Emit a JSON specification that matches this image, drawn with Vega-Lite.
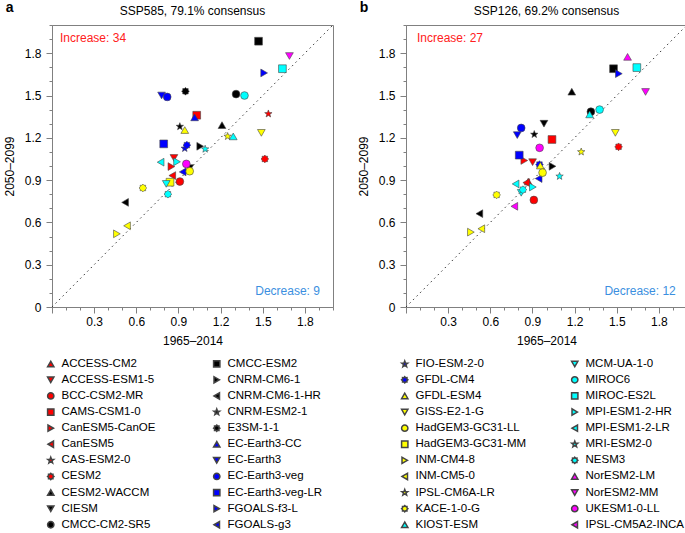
{
  "$schema": "https://vega.github.io/schema/vega-lite/v6.json",
  "padding": {"left": 2, "top": 0, "right": 2, "bottom": 0},
  "datasets": {
    "one": [{}],
    "ssp585": [
      {"model": "ACCESS-ESM1-5", "hist": 0.868, "fut": 1.057},
      {"model": "BCC-CSM2-MR", "hist": 0.91, "fut": 0.89},
      {"model": "CAMS-CSM1-0", "hist": 1.03, "fut": 1.36},
      {"model": "CanESM5-CanOE", "hist": 0.85, "fut": 0.996},
      {"model": "CanESM5", "hist": 0.856, "fut": 0.932},
      {"model": "CAS-ESM2-0", "hist": 1.54, "fut": 1.37},
      {"model": "CESM2", "hist": 1.515, "fut": 1.05},
      {"model": "CESM2-WACCM", "hist": 1.21, "fut": 1.29},
      {"model": "CIESM", "hist": 0.98, "fut": 0.985},
      {"model": "CMCC-CM2-SR5", "hist": 1.31, "fut": 1.51},
      {"model": "CMCC-ESM2", "hist": 1.47, "fut": 1.885},
      {"model": "CNRM-CM6-1", "hist": 1.055, "fut": 1.14},
      {"model": "CNRM-CM6-1-HR", "hist": 0.52, "fut": 0.742},
      {"model": "CNRM-ESM2-1", "hist": 0.91, "fut": 1.28},
      {"model": "E3SM-1-1", "hist": 0.95, "fut": 1.53},
      {"model": "EC-Earth3-CC", "hist": 1.015, "fut": 1.345},
      {"model": "EC-Earth3", "hist": 0.78, "fut": 1.5},
      {"model": "EC-Earth3-veg", "hist": 0.82, "fut": 1.49},
      {"model": "EC-Earth3-veg-LR", "hist": 0.795, "fut": 1.157},
      {"model": "FGOALS-f3-L", "hist": 1.51, "fut": 1.66},
      {"model": "FGOALS-g3", "hist": 0.93, "fut": 0.958},
      {"model": "FIO-ESM-2-0", "hist": 0.945, "fut": 1.125},
      {"model": "GFDL-CM4", "hist": 0.96, "fut": 1.148},
      {"model": "GFDL-ESM4", "hist": 0.945, "fut": 1.255},
      {"model": "GISS-E2-1-G", "hist": 1.49, "fut": 1.235},
      {"model": "HadGEM3-GC31-LL", "hist": 0.98, "fut": 0.963},
      {"model": "HadGEM3-GC31-MM", "hist": 0.84, "fut": 0.885},
      {"model": "INM-CM4-8", "hist": 0.462, "fut": 0.519},
      {"model": "INM-CM5-0", "hist": 0.534, "fut": 0.576},
      {"model": "IPSL-CM6A-LR", "hist": 1.25, "fut": 1.21},
      {"model": "KACE-1-0-G", "hist": 0.647, "fut": 0.844},
      {"model": "KIOST-ESM", "hist": 1.29, "fut": 1.21},
      {"model": "MCM-UA-1-0", "hist": 0.813, "fut": 0.873},
      {"model": "MIROC6", "hist": 1.37, "fut": 1.5},
      {"model": "MIROC-ES2L", "hist": 1.64, "fut": 1.69},
      {"model": "MPI-ESM1-2-HR", "hist": 0.89, "fut": 1.03},
      {"model": "MPI-ESM1-2-LR", "hist": 0.773, "fut": 1.027},
      {"model": "MRI-ESM2-0", "hist": 1.09, "fut": 1.12},
      {"model": "NESM3", "hist": 0.825, "fut": 0.8},
      {"model": "NorESM2-MM", "hist": 1.69, "fut": 1.78},
      {"model": "UKESM1-0-LL", "hist": 0.956, "fut": 1.015}
    ],
    "ssp126": [
      {"model": "ACCESS-CM2", "hist": 0.87, "fut": 0.89},
      {"model": "ACCESS-ESM1-5", "hist": 0.901, "fut": 1.027},
      {"model": "BCC-CSM2-MR", "hist": 0.91, "fut": 0.759},
      {"model": "CAMS-CSM1-0", "hist": 1.039, "fut": 1.188},
      {"model": "CanESM5-CanOE", "hist": 0.842, "fut": 1.039},
      {"model": "CanESM5", "hist": 0.856, "fut": 0.882},
      {"model": "CESM2", "hist": 1.513, "fut": 1.136},
      {"model": "CESM2-WACCM", "hist": 1.18, "fut": 1.527},
      {"model": "CIESM", "hist": 0.982, "fut": 1.3},
      {"model": "CMCC-CM2-SR5", "hist": 1.316, "fut": 1.385},
      {"model": "CMCC-ESM2", "hist": 1.477, "fut": 1.69},
      {"model": "CNRM-CM6-1", "hist": 1.043, "fut": 0.998},
      {"model": "CNRM-CM6-1-HR", "hist": 0.522, "fut": 0.662},
      {"model": "CNRM-ESM2-1", "hist": 0.913, "fut": 1.224},
      {"model": "EC-Earth3", "hist": 0.792, "fut": 1.219},
      {"model": "EC-Earth3-veg", "hist": 0.82, "fut": 1.27},
      {"model": "EC-Earth3-veg-LR", "hist": 0.806, "fut": 1.077},
      {"model": "FGOALS-f3-L", "hist": 1.515, "fut": 1.655},
      {"model": "FGOALS-g3", "hist": 0.944, "fut": 0.911},
      {"model": "GFDL-CM4", "hist": 0.95, "fut": 1.01},
      {"model": "GFDL-ESM4", "hist": 0.956, "fut": 1.003},
      {"model": "GISS-E2-1-G", "hist": 1.49, "fut": 1.235},
      {"model": "HadGEM3-GC31-LL", "hist": 0.972, "fut": 0.953},
      {"model": "INM-CM4-8", "hist": 0.462, "fut": 0.531},
      {"model": "INM-CM5-0", "hist": 0.536, "fut": 0.555},
      {"model": "IPSL-CM6A-LR", "hist": 1.247, "fut": 1.1},
      {"model": "KACE-1-0-G", "hist": 0.645, "fut": 0.795},
      {"model": "KIOST-ESM", "hist": 1.307, "fut": 1.366},
      {"model": "MCM-UA-1-0", "hist": 0.82, "fut": 0.81},
      {"model": "MIROC6", "hist": 1.378, "fut": 1.4},
      {"model": "MIROC-ES2L", "hist": 1.643, "fut": 1.698},
      {"model": "MPI-ESM1-2-HR", "hist": 0.903, "fut": 0.851},
      {"model": "MPI-ESM1-2-LR", "hist": 0.78, "fut": 0.873},
      {"model": "MRI-ESM2-0", "hist": 1.093, "fut": 0.927},
      {"model": "NESM3", "hist": 0.832, "fut": 0.832},
      {"model": "NorESM2-LM", "hist": 1.577, "fut": 1.774},
      {"model": "NorESM2-MM", "hist": 1.705, "fut": 1.525},
      {"model": "UKESM1-0-LL", "hist": 0.951, "fut": 1.129},
      {"model": "IPSL-CM5A2-INCA", "hist": 0.771, "fut": 0.714}
    ]
  },
  "hconcat": [
    {
      "width": 281,
      "height": 282,
      "title": {"text": "SSP585, 79.1% consensus", "fontSize": 12, "fontWeight": "normal", "offset": -17},
      "layer": [
        {
          "data": {"name": "one"},
          "mark": {"type": "rule", "strokeDash": [1.5, 3.5], "color": "#333", "strokeWidth": 1},
          "encoding": {
            "x": {"datum": 0, "type": "quantitative", "scale": {"domain": [0, 2], "nice": false},
              "axis": {"title": "1965–2014", "values": [0,0.1,0.2,0.3,0.4,0.5,0.6,0.7,0.8,0.9,1.0,1.1,1.2,1.3,1.4,1.5,1.6,1.7,1.8,1.9,2.0], "labelExpr": "(round(datum.value*10) % 3 == 0 && round(datum.value*10) > 0 && round(datum.value*10) < 20) ? format(datum.value, '.1f') : ''", "tickSize": {"condition": {"test": "round(datum.value*10) % 3 == 0", "value": 6}, "value": 3}, "labelFlush": false, "labelOverlap": false, "labelPadding": 3, "titlePadding": 8}},
            "y": {"datum": 0, "type": "quantitative", "scale": {"domain": [0, 2], "nice": false},
              "axis": {"title": "2050–2099", "values": [0,0.1,0.2,0.3,0.4,0.5,0.6,0.7,0.8,0.9,1.0,1.1,1.2,1.3,1.4,1.5,1.6,1.7,1.8,1.9,2.0], "labelExpr": "round(datum.value*10) == 0 ? '0' : ((round(datum.value*10) % 3 == 0 && round(datum.value*10) < 20) ? format(datum.value, '.1f') : '')", "tickSize": {"condition": {"test": "round(datum.value*10) % 3 == 0", "value": 6}, "value": 3}, "labelFlush": false, "labelOverlap": false, "labelPadding": 5, "titlePadding": 8}},
            "x2": {"datum": 2},
            "y2": {"datum": 2}
          }
        },
        {
          "data": {"name": "ssp585"},
          "mark": {"type": "point", "filled": true, "size": 60, "opacity": 1, "stroke": "#444", "strokeWidth": 0.6},
          "encoding": {
            "x": {"field": "hist", "type": "quantitative", "scale": {"domain": [0, 2], "nice": false},
              "axis": {"title": "1965–2014", "values": [0,0.1,0.2,0.3,0.4,0.5,0.6,0.7,0.8,0.9,1.0,1.1,1.2,1.3,1.4,1.5,1.6,1.7,1.8,1.9,2.0], "labelExpr": "(round(datum.value*10) % 3 == 0 && round(datum.value*10) > 0 && round(datum.value*10) < 20) ? format(datum.value, '.1f') : ''", "tickSize": {"condition": {"test": "round(datum.value*10) % 3 == 0", "value": 6}, "value": 3}, "labelFlush": false, "labelOverlap": false, "labelPadding": 3, "titlePadding": 8}},
            "y": {"field": "fut", "type": "quantitative", "scale": {"domain": [0, 2], "nice": false},
              "axis": {"title": "2050–2099", "values": [0,0.1,0.2,0.3,0.4,0.5,0.6,0.7,0.8,0.9,1.0,1.1,1.2,1.3,1.4,1.5,1.6,1.7,1.8,1.9,2.0], "labelExpr": "round(datum.value*10) == 0 ? '0' : ((round(datum.value*10) % 3 == 0 && round(datum.value*10) < 20) ? format(datum.value, '.1f') : '')", "tickSize": {"condition": {"test": "round(datum.value*10) % 3 == 0", "value": 6}, "value": 3}, "labelFlush": false, "labelOverlap": false, "labelPadding": 5, "titlePadding": 8}},
            "color": {"field": "model", "type": "nominal",
              "scale": {
                "domain": ["ACCESS-CM2","ACCESS-ESM1-5","BCC-CSM2-MR","CAMS-CSM1-0","CanESM5-CanOE","CanESM5","CAS-ESM2-0","CESM2","CESM2-WACCM","CIESM","CMCC-CM2-SR5","CMCC-ESM2","CNRM-CM6-1","CNRM-CM6-1-HR","CNRM-ESM2-1","E3SM-1-1","EC-Earth3-CC","EC-Earth3","EC-Earth3-veg","EC-Earth3-veg-LR","FGOALS-f3-L","FGOALS-g3","FIO-ESM-2-0","GFDL-CM4","GFDL-ESM4","GISS-E2-1-G","HadGEM3-GC31-LL","HadGEM3-GC31-MM","INM-CM4-8","INM-CM5-0","IPSL-CM6A-LR","KACE-1-0-G","KIOST-ESM","MCM-UA-1-0","MIROC6","MIROC-ES2L","MPI-ESM1-2-HR","MPI-ESM1-2-LR","MRI-ESM2-0","NESM3","NorESM2-LM","NorESM2-MM","UKESM1-0-LL","IPSL-CM5A2-INCA"],
                "range": ["#ff0000","#ff0000","#ff0000","#ff0000","#ff0000","#ff0000","#ff0000","#ff0000","#000000","#000000","#000000","#000000","#000000","#000000","#000000","#000000","#0000ff","#0000ff","#0000ff","#0000ff","#0000ff","#0000ff","#0000ff","#0000ff","#ffff00","#ffff00","#ffff00","#ffff00","#ffff00","#ffff00","#ffff00","#ffff00","#00ffff","#00ffff","#00ffff","#00ffff","#00ffff","#00ffff","#00ffff","#00ffff","#ff00ff","#ff00ff","#ff00ff","#ff00ff"]
              },
              "legend": {"values": ["ACCESS-CM2","CMCC-ESM2","ACCESS-ESM1-5","CNRM-CM6-1","BCC-CSM2-MR","CNRM-CM6-1-HR","CAMS-CSM1-0","CNRM-ESM2-1","CanESM5-CanOE","E3SM-1-1","CanESM5","EC-Earth3-CC","CAS-ESM2-0","EC-Earth3","CESM2","EC-Earth3-veg","CESM2-WACCM","EC-Earth3-veg-LR","CIESM","FGOALS-f3-L","CMCC-CM2-SR5","FGOALS-g3"],
                "orient": "bottom", "columns": 2, "title": null, "labelFontSize": 11.5, "symbolSize": 40, "rowPadding": 3.1, "columnPadding": 54, "labelOffset": 5, "offset": 12, "padding": 0, "symbolOffset": -7}
            },
            "shape": {"field": "model", "type": "nominal",
              "scale": {
                "domain": ["ACCESS-CM2","ACCESS-ESM1-5","BCC-CSM2-MR","CAMS-CSM1-0","CanESM5-CanOE","CanESM5","CAS-ESM2-0","CESM2","CESM2-WACCM","CIESM","CMCC-CM2-SR5","CMCC-ESM2","CNRM-CM6-1","CNRM-CM6-1-HR","CNRM-ESM2-1","E3SM-1-1","EC-Earth3-CC","EC-Earth3","EC-Earth3-veg","EC-Earth3-veg-LR","FGOALS-f3-L","FGOALS-g3","FIO-ESM-2-0","GFDL-CM4","GFDL-ESM4","GISS-E2-1-G","HadGEM3-GC31-LL","HadGEM3-GC31-MM","INM-CM4-8","INM-CM5-0","IPSL-CM6A-LR","KACE-1-0-G","KIOST-ESM","MCM-UA-1-0","MIROC6","MIROC-ES2L","MPI-ESM1-2-HR","MPI-ESM1-2-LR","MRI-ESM2-0","NESM3","NorESM2-LM","NorESM2-MM","UKESM1-0-LL","IPSL-CM5A2-INCA"],
                "range": ["triangle-up","triangle-down","circle","square","triangle-right","triangle-left","M0,-1L0.247,-0.34L0.951,-0.309L0.4,0.13L0.588,0.809L0,0.42L-0.588,0.809L-0.4,0.13L-0.951,-0.309L-0.247,-0.34Z","M0,-1L0.287,-0.693L0.707,-0.707L0.693,-0.287L1,0L0.693,0.287L0.707,0.707L0.287,0.693L0,1L-0.287,0.693L-0.707,0.707L-0.693,0.287L-1,0L-0.693,-0.287L-0.707,-0.707L-0.287,-0.693Z",
                          "triangle-up","triangle-down","circle","square","triangle-right","triangle-left","M0,-1L0.247,-0.34L0.951,-0.309L0.4,0.13L0.588,0.809L0,0.42L-0.588,0.809L-0.4,0.13L-0.951,-0.309L-0.247,-0.34Z","M0,-1L0.287,-0.693L0.707,-0.707L0.693,-0.287L1,0L0.693,0.287L0.707,0.707L0.287,0.693L0,1L-0.287,0.693L-0.707,0.707L-0.693,0.287L-1,0L-0.693,-0.287L-0.707,-0.707L-0.287,-0.693Z",
                          "triangle-up","triangle-down","circle","square","triangle-right","triangle-left","M0,-1L0.247,-0.34L0.951,-0.309L0.4,0.13L0.588,0.809L0,0.42L-0.588,0.809L-0.4,0.13L-0.951,-0.309L-0.247,-0.34Z","M0,-1L0.287,-0.693L0.707,-0.707L0.693,-0.287L1,0L0.693,0.287L0.707,0.707L0.287,0.693L0,1L-0.287,0.693L-0.707,0.707L-0.693,0.287L-1,0L-0.693,-0.287L-0.707,-0.707L-0.287,-0.693Z",
                          "triangle-up","triangle-down","circle","square","triangle-right","triangle-left","M0,-1L0.247,-0.34L0.951,-0.309L0.4,0.13L0.588,0.809L0,0.42L-0.588,0.809L-0.4,0.13L-0.951,-0.309L-0.247,-0.34Z","M0,-1L0.287,-0.693L0.707,-0.707L0.693,-0.287L1,0L0.693,0.287L0.707,0.707L0.287,0.693L0,1L-0.287,0.693L-0.707,0.707L-0.693,0.287L-1,0L-0.693,-0.287L-0.707,-0.707L-0.287,-0.693Z",
                          "triangle-up","triangle-down","circle","square","triangle-right","triangle-left","M0,-1L0.247,-0.34L0.951,-0.309L0.4,0.13L0.588,0.809L0,0.42L-0.588,0.809L-0.4,0.13L-0.951,-0.309L-0.247,-0.34Z","M0,-1L0.287,-0.693L0.707,-0.707L0.693,-0.287L1,0L0.693,0.287L0.707,0.707L0.287,0.693L0,1L-0.287,0.693L-0.707,0.707L-0.693,0.287L-1,0L-0.693,-0.287L-0.707,-0.707L-0.287,-0.693Z",
                          "triangle-up","triangle-down","circle","triangle-left"]
              },
              "legend": {"values": ["ACCESS-CM2","CMCC-ESM2","ACCESS-ESM1-5","CNRM-CM6-1","BCC-CSM2-MR","CNRM-CM6-1-HR","CAMS-CSM1-0","CNRM-ESM2-1","CanESM5-CanOE","E3SM-1-1","CanESM5","EC-Earth3-CC","CAS-ESM2-0","EC-Earth3","CESM2","EC-Earth3-veg","CESM2-WACCM","EC-Earth3-veg-LR","CIESM","FGOALS-f3-L","CMCC-CM2-SR5","FGOALS-g3"],
                "orient": "bottom", "columns": 2, "title": null, "labelFontSize": 11.5, "symbolSize": 40, "rowPadding": 3.1, "columnPadding": 54, "labelOffset": 5, "offset": 12, "padding": 0, "symbolOffset": -7}
            }
          }
        },
        {
          "data": {"name": "one"},
          "mark": {"type": "text", "text": "Increase: 34", "color": "#ff2020", "fontSize": 12, "fontWeight": "normal", "align": "left", "baseline": "middle"},
          "encoding": {
            "x": {"datum": 0.057, "type": "quantitative", "scale": {"domain": [0, 2], "nice": false},
              "axis": {"title": "1965–2014", "values": [0,0.1,0.2,0.3,0.4,0.5,0.6,0.7,0.8,0.9,1.0,1.1,1.2,1.3,1.4,1.5,1.6,1.7,1.8,1.9,2.0], "labelExpr": "(round(datum.value*10) % 3 == 0 && round(datum.value*10) > 0 && round(datum.value*10) < 20) ? format(datum.value, '.1f') : ''", "tickSize": {"condition": {"test": "round(datum.value*10) % 3 == 0", "value": 6}, "value": 3}, "labelFlush": false, "labelOverlap": false, "labelPadding": 3, "titlePadding": 8}},
            "y": {"datum": 1.91, "type": "quantitative", "scale": {"domain": [0, 2], "nice": false},
              "axis": {"title": "2050–2099", "values": [0,0.1,0.2,0.3,0.4,0.5,0.6,0.7,0.8,0.9,1.0,1.1,1.2,1.3,1.4,1.5,1.6,1.7,1.8,1.9,2.0], "labelExpr": "round(datum.value*10) == 0 ? '0' : ((round(datum.value*10) % 3 == 0 && round(datum.value*10) < 20) ? format(datum.value, '.1f') : '')", "tickSize": {"condition": {"test": "round(datum.value*10) % 3 == 0", "value": 6}, "value": 3}, "labelFlush": false, "labelOverlap": false, "labelPadding": 5, "titlePadding": 8}}
          }
        },
        {
          "data": {"name": "one"},
          "mark": {"type": "text", "text": "Decrease: 9", "color": "#3b8fe0", "fontSize": 12, "fontWeight": "normal", "align": "right", "baseline": "middle"},
          "encoding": {
            "x": {"datum": 1.907, "type": "quantitative", "scale": {"domain": [0, 2], "nice": false},
              "axis": {"title": "1965–2014", "values": [0,0.1,0.2,0.3,0.4,0.5,0.6,0.7,0.8,0.9,1.0,1.1,1.2,1.3,1.4,1.5,1.6,1.7,1.8,1.9,2.0], "labelExpr": "(round(datum.value*10) % 3 == 0 && round(datum.value*10) > 0 && round(datum.value*10) < 20) ? format(datum.value, '.1f') : ''", "tickSize": {"condition": {"test": "round(datum.value*10) % 3 == 0", "value": 6}, "value": 3}, "labelFlush": false, "labelOverlap": false, "labelPadding": 3, "titlePadding": 8}},
            "y": {"datum": 0.113, "type": "quantitative", "scale": {"domain": [0, 2], "nice": false},
              "axis": {"title": "2050–2099", "values": [0,0.1,0.2,0.3,0.4,0.5,0.6,0.7,0.8,0.9,1.0,1.1,1.2,1.3,1.4,1.5,1.6,1.7,1.8,1.9,2.0], "labelExpr": "round(datum.value*10) == 0 ? '0' : ((round(datum.value*10) % 3 == 0 && round(datum.value*10) < 20) ? format(datum.value, '.1f') : '')", "tickSize": {"condition": {"test": "round(datum.value*10) % 3 == 0", "value": 6}, "value": 3}, "labelFlush": false, "labelOverlap": false, "labelPadding": 5, "titlePadding": 8}}
          }
        },
        {
          "data": {"name": "one"},
          "mark": {"type": "text", "text": "a", "color": "#000", "fontSize": 14, "fontWeight": "bold", "align": "left", "baseline": "middle"},
          "encoding": {
            "x": {"datum": -0.33, "type": "quantitative", "scale": {"domain": [0, 2], "nice": false},
              "axis": {"title": "1965–2014", "values": [0,0.1,0.2,0.3,0.4,0.5,0.6,0.7,0.8,0.9,1.0,1.1,1.2,1.3,1.4,1.5,1.6,1.7,1.8,1.9,2.0], "labelExpr": "(round(datum.value*10) % 3 == 0 && round(datum.value*10) > 0 && round(datum.value*10) < 20) ? format(datum.value, '.1f') : ''", "tickSize": {"condition": {"test": "round(datum.value*10) % 3 == 0", "value": 6}, "value": 3}, "labelFlush": false, "labelOverlap": false, "labelPadding": 3, "titlePadding": 8}},
            "y": {"datum": 2.12, "type": "quantitative", "scale": {"domain": [0, 2], "nice": false},
              "axis": {"title": "2050–2099", "values": [0,0.1,0.2,0.3,0.4,0.5,0.6,0.7,0.8,0.9,1.0,1.1,1.2,1.3,1.4,1.5,1.6,1.7,1.8,1.9,2.0], "labelExpr": "round(datum.value*10) == 0 ? '0' : ((round(datum.value*10) % 3 == 0 && round(datum.value*10) < 20) ? format(datum.value, '.1f') : '')", "tickSize": {"condition": {"test": "round(datum.value*10) % 3 == 0", "value": 6}, "value": 3}, "labelFlush": false, "labelOverlap": false, "labelPadding": 5, "titlePadding": 8}}
          }
        }
      ]
    },
    {
      "width": 281,
      "height": 282,
      "title": {"text": "SSP126, 69.2% consensus", "fontSize": 12, "fontWeight": "normal", "offset": -17},
      "layer": [
        {
          "data": {"name": "one"},
          "mark": {"type": "rule", "strokeDash": [1.5, 3.5], "color": "#333", "strokeWidth": 1},
          "encoding": {
            "x": {"datum": 0, "type": "quantitative", "scale": {"domain": [0, 2], "nice": false},
              "axis": {"title": "1965–2014", "values": [0,0.1,0.2,0.3,0.4,0.5,0.6,0.7,0.8,0.9,1.0,1.1,1.2,1.3,1.4,1.5,1.6,1.7,1.8,1.9,2.0], "labelExpr": "(round(datum.value*10) % 3 == 0 && round(datum.value*10) > 0 && round(datum.value*10) < 20) ? format(datum.value, '.1f') : ''", "tickSize": {"condition": {"test": "round(datum.value*10) % 3 == 0", "value": 6}, "value": 3}, "labelFlush": false, "labelOverlap": false, "labelPadding": 3, "titlePadding": 8}},
            "y": {"datum": 0, "type": "quantitative", "scale": {"domain": [0, 2], "nice": false},
              "axis": {"title": "2050–2099", "values": [0,0.1,0.2,0.3,0.4,0.5,0.6,0.7,0.8,0.9,1.0,1.1,1.2,1.3,1.4,1.5,1.6,1.7,1.8,1.9,2.0], "labelExpr": "round(datum.value*10) == 0 ? '0' : ((round(datum.value*10) % 3 == 0 && round(datum.value*10) < 20) ? format(datum.value, '.1f') : '')", "tickSize": {"condition": {"test": "round(datum.value*10) % 3 == 0", "value": 6}, "value": 3}, "labelFlush": false, "labelOverlap": false, "labelPadding": 5, "titlePadding": 8}},
            "x2": {"datum": 2},
            "y2": {"datum": 2}
          }
        },
        {
          "data": {"name": "ssp126"},
          "mark": {"type": "point", "filled": true, "size": 60, "opacity": 1, "stroke": "#444", "strokeWidth": 0.6},
          "encoding": {
            "x": {"field": "hist", "type": "quantitative", "scale": {"domain": [0, 2], "nice": false},
              "axis": {"title": "1965–2014", "values": [0,0.1,0.2,0.3,0.4,0.5,0.6,0.7,0.8,0.9,1.0,1.1,1.2,1.3,1.4,1.5,1.6,1.7,1.8,1.9,2.0], "labelExpr": "(round(datum.value*10) % 3 == 0 && round(datum.value*10) > 0 && round(datum.value*10) < 20) ? format(datum.value, '.1f') : ''", "tickSize": {"condition": {"test": "round(datum.value*10) % 3 == 0", "value": 6}, "value": 3}, "labelFlush": false, "labelOverlap": false, "labelPadding": 3, "titlePadding": 8}},
            "y": {"field": "fut", "type": "quantitative", "scale": {"domain": [0, 2], "nice": false},
              "axis": {"title": "2050–2099", "values": [0,0.1,0.2,0.3,0.4,0.5,0.6,0.7,0.8,0.9,1.0,1.1,1.2,1.3,1.4,1.5,1.6,1.7,1.8,1.9,2.0], "labelExpr": "round(datum.value*10) == 0 ? '0' : ((round(datum.value*10) % 3 == 0 && round(datum.value*10) < 20) ? format(datum.value, '.1f') : '')", "tickSize": {"condition": {"test": "round(datum.value*10) % 3 == 0", "value": 6}, "value": 3}, "labelFlush": false, "labelOverlap": false, "labelPadding": 5, "titlePadding": 8}},
            "color": {"field": "model", "type": "nominal",
              "scale": {
                "domain": ["ACCESS-CM2","ACCESS-ESM1-5","BCC-CSM2-MR","CAMS-CSM1-0","CanESM5-CanOE","CanESM5","CAS-ESM2-0","CESM2","CESM2-WACCM","CIESM","CMCC-CM2-SR5","CMCC-ESM2","CNRM-CM6-1","CNRM-CM6-1-HR","CNRM-ESM2-1","E3SM-1-1","EC-Earth3-CC","EC-Earth3","EC-Earth3-veg","EC-Earth3-veg-LR","FGOALS-f3-L","FGOALS-g3","FIO-ESM-2-0","GFDL-CM4","GFDL-ESM4","GISS-E2-1-G","HadGEM3-GC31-LL","HadGEM3-GC31-MM","INM-CM4-8","INM-CM5-0","IPSL-CM6A-LR","KACE-1-0-G","KIOST-ESM","MCM-UA-1-0","MIROC6","MIROC-ES2L","MPI-ESM1-2-HR","MPI-ESM1-2-LR","MRI-ESM2-0","NESM3","NorESM2-LM","NorESM2-MM","UKESM1-0-LL","IPSL-CM5A2-INCA"],
                "range": ["#ff0000","#ff0000","#ff0000","#ff0000","#ff0000","#ff0000","#ff0000","#ff0000","#000000","#000000","#000000","#000000","#000000","#000000","#000000","#000000","#0000ff","#0000ff","#0000ff","#0000ff","#0000ff","#0000ff","#0000ff","#0000ff","#ffff00","#ffff00","#ffff00","#ffff00","#ffff00","#ffff00","#ffff00","#ffff00","#00ffff","#00ffff","#00ffff","#00ffff","#00ffff","#00ffff","#00ffff","#00ffff","#ff00ff","#ff00ff","#ff00ff","#ff00ff"]
              },
              "legend": {"values": ["FIO-ESM-2-0","MCM-UA-1-0","GFDL-CM4","MIROC6","GFDL-ESM4","MIROC-ES2L","GISS-E2-1-G","MPI-ESM1-2-HR","HadGEM3-GC31-LL","MPI-ESM1-2-LR","HadGEM3-GC31-MM","MRI-ESM2-0","INM-CM4-8","NESM3","INM-CM5-0","NorESM2-LM","IPSL-CM6A-LR","NorESM2-MM","KACE-1-0-G","UKESM1-0-LL","KIOST-ESM","IPSL-CM5A2-INCA"],
                "orient": "bottom", "columns": 2, "title": null, "labelFontSize": 11.5, "symbolSize": 40, "rowPadding": 3.1, "columnPadding": 41, "labelOffset": 5, "offset": 12, "padding": 0, "symbolOffset": -7}
            },
            "shape": {"field": "model", "type": "nominal",
              "scale": {
                "domain": ["ACCESS-CM2","ACCESS-ESM1-5","BCC-CSM2-MR","CAMS-CSM1-0","CanESM5-CanOE","CanESM5","CAS-ESM2-0","CESM2","CESM2-WACCM","CIESM","CMCC-CM2-SR5","CMCC-ESM2","CNRM-CM6-1","CNRM-CM6-1-HR","CNRM-ESM2-1","E3SM-1-1","EC-Earth3-CC","EC-Earth3","EC-Earth3-veg","EC-Earth3-veg-LR","FGOALS-f3-L","FGOALS-g3","FIO-ESM-2-0","GFDL-CM4","GFDL-ESM4","GISS-E2-1-G","HadGEM3-GC31-LL","HadGEM3-GC31-MM","INM-CM4-8","INM-CM5-0","IPSL-CM6A-LR","KACE-1-0-G","KIOST-ESM","MCM-UA-1-0","MIROC6","MIROC-ES2L","MPI-ESM1-2-HR","MPI-ESM1-2-LR","MRI-ESM2-0","NESM3","NorESM2-LM","NorESM2-MM","UKESM1-0-LL","IPSL-CM5A2-INCA"],
                "range": ["triangle-up","triangle-down","circle","square","triangle-right","triangle-left","M0,-1L0.247,-0.34L0.951,-0.309L0.4,0.13L0.588,0.809L0,0.42L-0.588,0.809L-0.4,0.13L-0.951,-0.309L-0.247,-0.34Z","M0,-1L0.287,-0.693L0.707,-0.707L0.693,-0.287L1,0L0.693,0.287L0.707,0.707L0.287,0.693L0,1L-0.287,0.693L-0.707,0.707L-0.693,0.287L-1,0L-0.693,-0.287L-0.707,-0.707L-0.287,-0.693Z",
                          "triangle-up","triangle-down","circle","square","triangle-right","triangle-left","M0,-1L0.247,-0.34L0.951,-0.309L0.4,0.13L0.588,0.809L0,0.42L-0.588,0.809L-0.4,0.13L-0.951,-0.309L-0.247,-0.34Z","M0,-1L0.287,-0.693L0.707,-0.707L0.693,-0.287L1,0L0.693,0.287L0.707,0.707L0.287,0.693L0,1L-0.287,0.693L-0.707,0.707L-0.693,0.287L-1,0L-0.693,-0.287L-0.707,-0.707L-0.287,-0.693Z",
                          "triangle-up","triangle-down","circle","square","triangle-right","triangle-left","M0,-1L0.247,-0.34L0.951,-0.309L0.4,0.13L0.588,0.809L0,0.42L-0.588,0.809L-0.4,0.13L-0.951,-0.309L-0.247,-0.34Z","M0,-1L0.287,-0.693L0.707,-0.707L0.693,-0.287L1,0L0.693,0.287L0.707,0.707L0.287,0.693L0,1L-0.287,0.693L-0.707,0.707L-0.693,0.287L-1,0L-0.693,-0.287L-0.707,-0.707L-0.287,-0.693Z",
                          "triangle-up","triangle-down","circle","square","triangle-right","triangle-left","M0,-1L0.247,-0.34L0.951,-0.309L0.4,0.13L0.588,0.809L0,0.42L-0.588,0.809L-0.4,0.13L-0.951,-0.309L-0.247,-0.34Z","M0,-1L0.287,-0.693L0.707,-0.707L0.693,-0.287L1,0L0.693,0.287L0.707,0.707L0.287,0.693L0,1L-0.287,0.693L-0.707,0.707L-0.693,0.287L-1,0L-0.693,-0.287L-0.707,-0.707L-0.287,-0.693Z",
                          "triangle-up","triangle-down","circle","square","triangle-right","triangle-left","M0,-1L0.247,-0.34L0.951,-0.309L0.4,0.13L0.588,0.809L0,0.42L-0.588,0.809L-0.4,0.13L-0.951,-0.309L-0.247,-0.34Z","M0,-1L0.287,-0.693L0.707,-0.707L0.693,-0.287L1,0L0.693,0.287L0.707,0.707L0.287,0.693L0,1L-0.287,0.693L-0.707,0.707L-0.693,0.287L-1,0L-0.693,-0.287L-0.707,-0.707L-0.287,-0.693Z",
                          "triangle-up","triangle-down","circle","triangle-left"]
              },
              "legend": {"values": ["FIO-ESM-2-0","MCM-UA-1-0","GFDL-CM4","MIROC6","GFDL-ESM4","MIROC-ES2L","GISS-E2-1-G","MPI-ESM1-2-HR","HadGEM3-GC31-LL","MPI-ESM1-2-LR","HadGEM3-GC31-MM","MRI-ESM2-0","INM-CM4-8","NESM3","INM-CM5-0","NorESM2-LM","IPSL-CM6A-LR","NorESM2-MM","KACE-1-0-G","UKESM1-0-LL","KIOST-ESM","IPSL-CM5A2-INCA"],
                "orient": "bottom", "columns": 2, "title": null, "labelFontSize": 11.5, "symbolSize": 40, "rowPadding": 3.1, "columnPadding": 41, "labelOffset": 5, "offset": 12, "padding": 0, "symbolOffset": -7}
            }
          }
        },
        {
          "data": {"name": "one"},
          "mark": {"type": "text", "text": "Increase: 27", "color": "#ff2020", "fontSize": 12, "fontWeight": "normal", "align": "left", "baseline": "middle"},
          "encoding": {
            "x": {"datum": 0.078, "type": "quantitative", "scale": {"domain": [0, 2], "nice": false},
              "axis": {"title": "1965–2014", "values": [0,0.1,0.2,0.3,0.4,0.5,0.6,0.7,0.8,0.9,1.0,1.1,1.2,1.3,1.4,1.5,1.6,1.7,1.8,1.9,2.0], "labelExpr": "(round(datum.value*10) % 3 == 0 && round(datum.value*10) > 0 && round(datum.value*10) < 20) ? format(datum.value, '.1f') : ''", "tickSize": {"condition": {"test": "round(datum.value*10) % 3 == 0", "value": 6}, "value": 3}, "labelFlush": false, "labelOverlap": false, "labelPadding": 3, "titlePadding": 8}},
            "y": {"datum": 1.91, "type": "quantitative", "scale": {"domain": [0, 2], "nice": false},
              "axis": {"title": "2050–2099", "values": [0,0.1,0.2,0.3,0.4,0.5,0.6,0.7,0.8,0.9,1.0,1.1,1.2,1.3,1.4,1.5,1.6,1.7,1.8,1.9,2.0], "labelExpr": "round(datum.value*10) == 0 ? '0' : ((round(datum.value*10) % 3 == 0 && round(datum.value*10) < 20) ? format(datum.value, '.1f') : '')", "tickSize": {"condition": {"test": "round(datum.value*10) % 3 == 0", "value": 6}, "value": 3}, "labelFlush": false, "labelOverlap": false, "labelPadding": 5, "titlePadding": 8}}
          }
        },
        {
          "data": {"name": "one"},
          "mark": {"type": "text", "text": "Decrease: 12", "color": "#3b8fe0", "fontSize": 12, "fontWeight": "normal", "align": "right", "baseline": "middle"},
          "encoding": {
            "x": {"datum": 1.92, "type": "quantitative", "scale": {"domain": [0, 2], "nice": false},
              "axis": {"title": "1965–2014", "values": [0,0.1,0.2,0.3,0.4,0.5,0.6,0.7,0.8,0.9,1.0,1.1,1.2,1.3,1.4,1.5,1.6,1.7,1.8,1.9,2.0], "labelExpr": "(round(datum.value*10) % 3 == 0 && round(datum.value*10) > 0 && round(datum.value*10) < 20) ? format(datum.value, '.1f') : ''", "tickSize": {"condition": {"test": "round(datum.value*10) % 3 == 0", "value": 6}, "value": 3}, "labelFlush": false, "labelOverlap": false, "labelPadding": 3, "titlePadding": 8}},
            "y": {"datum": 0.113, "type": "quantitative", "scale": {"domain": [0, 2], "nice": false},
              "axis": {"title": "2050–2099", "values": [0,0.1,0.2,0.3,0.4,0.5,0.6,0.7,0.8,0.9,1.0,1.1,1.2,1.3,1.4,1.5,1.6,1.7,1.8,1.9,2.0], "labelExpr": "round(datum.value*10) == 0 ? '0' : ((round(datum.value*10) % 3 == 0 && round(datum.value*10) < 20) ? format(datum.value, '.1f') : '')", "tickSize": {"condition": {"test": "round(datum.value*10) % 3 == 0", "value": 6}, "value": 3}, "labelFlush": false, "labelOverlap": false, "labelPadding": 5, "titlePadding": 8}}
          }
        },
        {
          "data": {"name": "one"},
          "mark": {"type": "text", "text": "b", "color": "#000", "fontSize": 14, "fontWeight": "bold", "align": "left", "baseline": "middle"},
          "encoding": {
            "x": {"datum": -0.33, "type": "quantitative", "scale": {"domain": [0, 2], "nice": false},
              "axis": {"title": "1965–2014", "values": [0,0.1,0.2,0.3,0.4,0.5,0.6,0.7,0.8,0.9,1.0,1.1,1.2,1.3,1.4,1.5,1.6,1.7,1.8,1.9,2.0], "labelExpr": "(round(datum.value*10) % 3 == 0 && round(datum.value*10) > 0 && round(datum.value*10) < 20) ? format(datum.value, '.1f') : ''", "tickSize": {"condition": {"test": "round(datum.value*10) % 3 == 0", "value": 6}, "value": 3}, "labelFlush": false, "labelOverlap": false, "labelPadding": 3, "titlePadding": 8}},
            "y": {"datum": 2.12, "type": "quantitative", "scale": {"domain": [0, 2], "nice": false},
              "axis": {"title": "2050–2099", "values": [0,0.1,0.2,0.3,0.4,0.5,0.6,0.7,0.8,0.9,1.0,1.1,1.2,1.3,1.4,1.5,1.6,1.7,1.8,1.9,2.0], "labelExpr": "round(datum.value*10) == 0 ? '0' : ((round(datum.value*10) % 3 == 0 && round(datum.value*10) < 20) ? format(datum.value, '.1f') : '')", "tickSize": {"condition": {"test": "round(datum.value*10) % 3 == 0", "value": 6}, "value": 3}, "labelFlush": false, "labelOverlap": false, "labelPadding": 5, "titlePadding": 8}}
          }
        }
      ]
    }
  ],
  "spacing": 22,
  "resolve": {
    "scale": {"color": "independent", "shape": "independent", "x": "independent", "y": "independent"},
    "legend": {"color": "independent", "shape": "independent"}
  },
  "config": {
    "font": "Liberation Sans",
    "view": {"stroke": "#808080", "strokeWidth": 1},
    "axis": {"grid": false, "labelFontSize": 12, "titleFontSize": 12, "titleFontWeight": "normal", "labelColor": "#000", "titleColor": "#000", "domainColor": "#808080", "tickColor": "#808080"},
    "title": {"color": "#000"}
  }
}
